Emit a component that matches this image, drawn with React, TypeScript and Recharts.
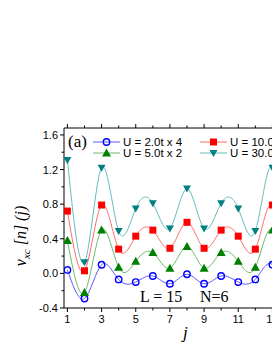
import React from "react";
import { LineChart, Line, XAxis, YAxis, Customized } from "recharts";

// site index j
const sites = [1, 2, 3, 4, 5, 6, 7, 8, 9, 10, 11, 12, 13, 14, 15];
// v_xc[n](j) for each U, already scaled as in the legend
const u2x4 = [0.04, -0.29, 0.1, -0.07, -0.1, -0.03, -0.12, -0.01, -0.12, -0.03, -0.1, -0.07, 0.1, -0.29, 0.04];
const u5x2 = [0.38, -0.22, 0.5, 0.07, 0.14, 0.24, 0.06, 0.31, 0.06, 0.24, 0.14, 0.07, 0.5, -0.22, 0.38];
const u10 = [0.72, 0.03, 0.79, 0.28, 0.43, 0.5, 0.29, 0.59, 0.29, 0.5, 0.43, 0.28, 0.79, 0.03, 0.72];
const u30 = [1.31, 0.13, 1.22, 0.49, 0.75, 0.81, 0.52, 0.98, 0.52, 0.81, 0.75, 0.49, 1.22, 0.13, 1.31];

const xTicks = [1, 2, 3, 4, 5, 6, 7, 8, 9, 10, 11, 12, 13, 14, 15];
const yTicks = [-0.4, -0.2, 0, 0.2, 0.4, 0.6, 0.8, 1.0, 1.2, 1.4, 1.6];

const data = sites.map((j, i) => ({ j, u2: u2x4[i], u5: u5x2[i], u10: u10[i], u30: u30[i] }));

const SANS = "'Liberation Sans', Arial, sans-serif";
const SERIF = "'Liberation Serif', 'Times New Roman', serif";

const XTick = ({ x, y, payload }: any) => {
  const major = payload.value % 2 === 1;
  return (
    <g>
      <line x1={x} x2={x} y1={y} y2={y + (major ? 4 : 2.5)} stroke="#000" />
      {major && (
        <text x={x} y={y + 15} textAnchor="middle" fontSize={11} fontFamily={SANS} fill="#000">
          {payload.value}
        </text>
      )}
    </g>
  );
};

const TopTick = ({ x, y, payload }: any) => {
  const major = payload.value % 2 === 1;
  return <line x1={x} x2={x} y1={y} y2={y - (major ? 4 : 2.5)} stroke="#000" />;
};

const YTick = ({ x, y, payload }: any) => {
  const v = payload.value;
  const major = Math.abs(Math.round(v / 0.4) * 0.4 - v) < 1e-6;
  return (
    <g>
      <line x1={x} x2={x - (major ? 4 : 2.5)} y1={y} y2={y} stroke="#000" />
      {major && (
        <text x={x - 6} y={y + 4} textAnchor="end" fontSize={11} fontFamily={SANS} fill="#000">
          {v.toFixed(1)}
        </text>
      )}
    </g>
  );
};

const Circle = ({ cx, cy }: any) => <circle cx={cx} cy={cy} r={3.2} fill="none" stroke="#0000ff" strokeWidth={1.4} />;
const Square = ({ cx, cy }: any) => <rect x={cx - 3.5} y={cy - 3.5} width={7} height={7} fill="#ff0000" />;
const TriUp = ({ cx, cy }: any) => (
  <polygon points={`${cx},${cy - 4.5} ${cx - 4.5},${cy + 3.5} ${cx + 4.5},${cy + 3.5}`} fill="#008000" />
);
const TriDown = ({ cx, cy }: any) => (
  <polygon points={`${cx},${cy + 4} ${cx - 4},${cy - 3} ${cx + 4},${cy - 3}`} fill="#008080" />
);

const series = [
  { key: "u2", line: "#5a5aff", Dot: Circle, name: "U = 2.0t x 4" },
  { key: "u5", line: "#6fb86f", Dot: TriUp, name: "U = 5.0t x 2" },
  { key: "u10", line: "#ff6a6a", Dot: Square, name: "U = 10.0t" },
  { key: "u30", line: "#64bcbc", Dot: TriDown, name: "U = 30.0t" },
];

const LegendItem = ({ x, y, s }: any) => (
  <g>
    <line x1={x} x2={x + 27} y1={y} y2={y} stroke={s.line} />
    <s.Dot cx={x + 13.5} cy={y} />
    <text x={x + 30} y={y + 4} fontSize={11.5} fontFamily={SANS} fill="#000">
      {s.name}
    </text>
  </g>
);

const Overlay = () => (
  <g>
    <text x={68} y={147} fontSize={17} fontFamily={SERIF} fill="#000">(a)</text>
    <LegendItem x={93} y={142} s={series[0]} />
    <LegendItem x={93} y={153} s={series[1]} />
    <LegendItem x={200} y={142} s={series[2]} />
    <LegendItem x={200} y={153} s={series[3]} />
    <text x={140} y={302} fontSize={16} fontFamily={SERIF} fill="#000">L = 15</text>
    <text x={200} y={302} fontSize={16} fontFamily={SERIF} fill="#000">N=6</text>
    <text x={183} y={338} fontSize={17} fontStyle="italic" fontFamily={SERIF} fill="#000">j</text>
    <text transform="translate(26,236) rotate(-90)" textAnchor="middle" fontSize={16} fontStyle="italic" fontFamily={SERIF} fill="#000">
      v<tspan fontSize={11} dy={4}>xc</tspan>
      <tspan dy={-4}> [n] (j)</tspan>
    </text>
  </g>
);

export default function App() {
  return (
    <div style={{ position: "absolute", left: 0, top: 0, width: 272, height: 352, overflow: "hidden", background: "#fff" }}>
      <LineChart width={330} height={352} data={data} margin={{ top: 127, right: 20, bottom: 0, left: 24 }}>
        <XAxis
          dataKey="j"
          type="number"
          domain={[0.8, 15.2]}
          ticks={xTicks}
          interval={0}
          allowDataOverflow
          height={44}
          tickSize={0}
          tickMargin={0}
          tickLine={false}
          tick={<XTick />}
          axisLine={{ stroke: "#000" }}
        />
        <XAxis
          xAxisId="top"
          orientation="top"
          dataKey="j"
          type="number"
          domain={[0.8, 15.2]}
          ticks={xTicks}
          interval={0}
          allowDataOverflow
          height={1}
          tickSize={0}
          tickMargin={0}
          tickLine={false}
          tick={<TopTick />}
          axisLine={{ stroke: "#000" }}
        />
        <YAxis
          type="number"
          domain={[-0.4, 1.68]}
          ticks={yTicks}
          interval={0}
          allowDataOverflow
          width={40}
          tickSize={0}
          tickMargin={0}
          tickLine={false}
          tick={<YTick />}
          axisLine={{ stroke: "#000" }}
        />
        {series.map((s) => (
          <Line
            key={s.key}
            dataKey={s.key}
            type="natural"
            stroke={s.line}
            strokeWidth={1}
            dot={<s.Dot />}
            activeDot={false}
            isAnimationActive={false}
          />
        ))}
        <Customized component={Overlay} />
      </LineChart>
    </div>
  );
}
